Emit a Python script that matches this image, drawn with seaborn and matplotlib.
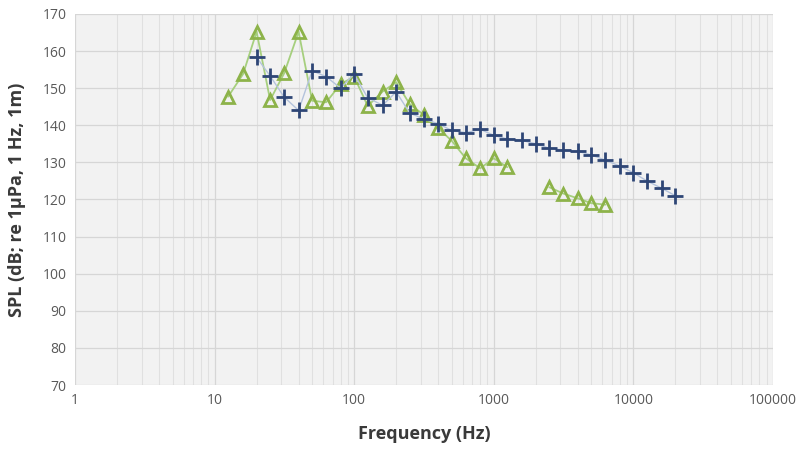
import numpy as np
import pandas as pd
import matplotlib
matplotlib.use("Agg")
import matplotlib.pyplot as plt
from matplotlib.ticker import FixedLocator, LogLocator, NullFormatter
import seaborn as sns

# Green triangles (one-third octave bands), gap at 1600-2000 Hz
green_freq = [12.5, 16, 20, 25, 31.5, 40, 50, 63, 80, 100, 125, 160, 200, 250,
              315, 400, 500, 630, 800, 1000, 1250, 2500, 3150, 4000, 5000, 6300]
green_spl = [147.7, 153.8, 165.2, 146.8, 154.0, 165.2, 146.6, 146.2, 151.1, 153.1,
             145.2, 149.1, 151.6, 145.7, 142.8, 139.2, 135.8, 131.1, 128.4, 131.1,
             128.7, 123.3, 121.6, 120.3, 119.0, 118.6]
green_seg = [0] * 21 + [1] * 5

# Blue plus markers
blue_freq = [20, 25, 31.5, 40, 50, 63, 80, 100, 125, 160, 200, 250, 315, 400, 500,
             630, 800, 1000, 1250, 1600, 2000, 2500, 3150, 4000, 5000, 6300, 8000,
             10000, 12500, 16000, 20000]
blue_spl = [158.3, 153.3, 147.6, 144.0, 154.7, 153.1, 150.0, 153.8, 147.4, 145.4,
            149.0, 143.3, 141.7, 140.4, 138.6, 138.0, 138.9, 137.3, 136.3, 135.9,
            135.0, 133.8, 133.3, 133.0, 132.0, 130.6, 129.0, 127.2, 125.0, 123.0,
            121.0]

x_ticks = [1, 10, 100, 1000, 10000, 100000]
x_tick_labels = ["1", "10", "100", "1000", "10000", "100000"]
y_ticks = list(range(70, 171, 10))

df_g = pd.DataFrame({"f": green_freq, "spl": green_spl, "seg": green_seg})
df_b = pd.DataFrame({"f": blue_freq, "spl": blue_spl})

sns.set_style("white")
plt.rcParams["font.family"] = ["Open Sans", "DejaVu Sans"]

fig = plt.figure(figsize=(8.01, 4.5), dpi=100)
ax = fig.add_axes([0.0936, 0.1444, 0.8714, 0.8246])
ax.set_facecolor("#F2F2F2")

sns.lineplot(data=df_g, x="f", y="spl", units="seg", estimator=None, ax=ax,
             color="#A6CF7E", linewidth=1.3, marker="^", markersize=9,
             markerfacecolor="none", markeredgecolor="#8DB34A",
             markeredgewidth=2.0, zorder=3)
sns.lineplot(data=df_b, x="f", y="spl", ax=ax, color="#B4C3DC", linewidth=1.0,
             marker="+", markersize=11, markeredgewidth=2.0,
             markeredgecolor="#2E4676", estimator=None, zorder=4)

ax.set_xscale("log")
ax.set_xlim(1, 100000)
ax.set_ylim(70, 170)
ax.xaxis.set_major_locator(FixedLocator(x_ticks))
ax.set_xticks(x_ticks)
ax.set_xticklabels(x_tick_labels)
ax.xaxis.set_minor_locator(LogLocator(base=10, subs=np.arange(2, 10)))
ax.xaxis.set_minor_formatter(NullFormatter())
ax.set_yticks(y_ticks)

ax.grid(True, which="major", color="#D6D6D6", linewidth=0.9)
ax.grid(True, which="minor", axis="x", color="#E0E0E0", linewidth=0.8)
ax.set_axisbelow(True)
for s in ax.spines.values():
    s.set_visible(False)
ax.tick_params(axis="both", which="both", length=0, labelsize=10, colors="#595959")
ax.tick_params(axis="x", pad=6)
ax.tick_params(axis="y", pad=6)

ax.set_xlabel("Frequency (Hz)", fontsize=13, fontweight="bold", color="#3A3A3A",
              labelpad=12)
ax.set_ylabel("SPL (dB; re 1µPa, 1 Hz, 1m)", fontsize=13, fontweight="bold",
              color="#3A3A3A", labelpad=12)
leg = ax.get_legend()
if leg:
    leg.remove()

fig.savefig("out.png", dpi=100)
